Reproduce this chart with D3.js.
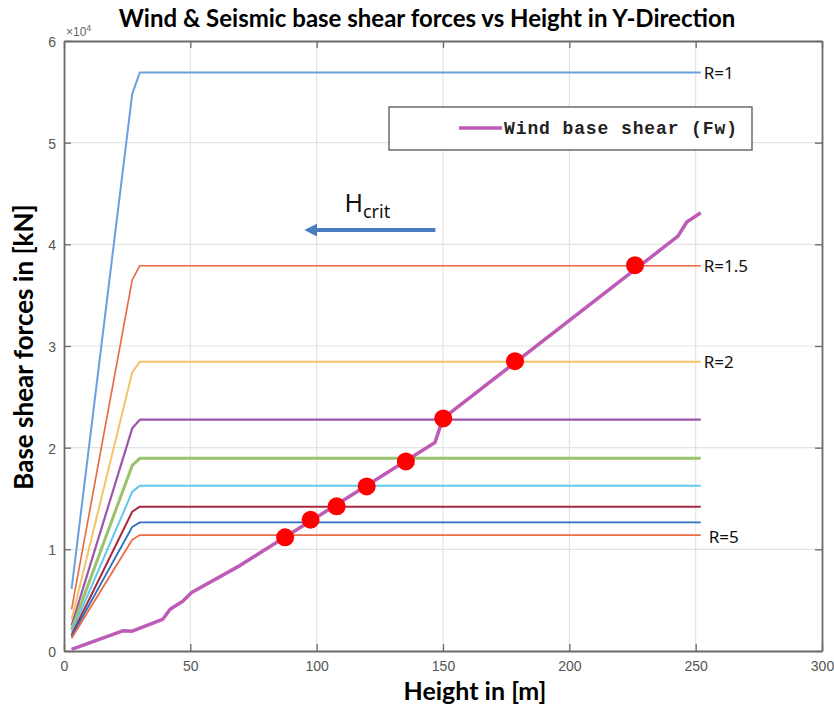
<!DOCTYPE html>
<html>
<head>
<meta charset="utf-8">
<script src="https://cdn.jsdelivr.net/npm/d3@7"></script>
<style>
  body { margin: 0; background: #fff; }
  svg { display: block; }
  .tick text { font-family: "Liberation Sans", Arial, sans-serif; font-size: 14px; fill: #555; }
</style>
</head>
<body>
<div id="chart"></div>
<script>
// heights where the seismic curves are sampled
let seismicHeights = [3, 27, 30, 252];

// seismic base shear for each behaviour factor R
let shearR1 = [6100, 54800, 56900, 56900];
let shearR15 = [4100, 36500, 37900, 37900];
let shearR2 = [3100, 27400, 28450, 28450];
let shearR25 = [2500, 21900, 22750, 22750];
let shearR3 = [2100, 18250, 18950, 18950];
let shearR35 = [1800, 15650, 16250, 16250];
let shearR4 = [1550, 13700, 14200, 14200];
let shearR45 = [1400, 12200, 12650, 12650];
let shearR5 = [1250, 10950, 11400, 11400];

let rNames = ["R=1", "R=1.5", "R=2", "R=2.5", "R=3", "R=3.5", "R=4", "R=4.5", "R=5"];
let labelledR = ["R=1", "R=1.5", "R=2", "R=5"];

// wind base shear
let windHeights = [3, 23.5, 27, 39, 42, 47, 50.5, 69.6, 146.8, 150, 243, 246.5, 252];
let windShear = [150, 2000, 1950, 3100, 4100, 4900, 5750, 8400, 20500, 22880, 40800, 42200, 43100];

// intersections (red dots)
let critHeights = [87.5, 97.6, 107.9, 119.8, 135.3, 150.1, 178.5, 226];
let critShear = [11180, 12910, 14230, 16190, 18650, 22880, 28510, 37950];

let xTicks = [0, 50, 100, 150, 200, 250, 300];
let yTicks = [0, 10000, 20000, 30000, 40000, 50000, 60000];

let seriesColors = ["#6c9fdf", "#e8673f", "#f4c469", "#9a57a9", "#98c36a", "#62c6ef", "#a82a42", "#2b73c0", "#eb6c46"];
let seriesWidths = [2, 1.6, 2, 2.2, 3, 2, 2, 1.8, 1.8];

let seismic = [shearR1, shearR15, shearR2, shearR25, shearR3, shearR35, shearR4, shearR45, shearR5];

// set the dimensions and margins of the graph
let margin = {top: 41, right: 12, bottom: 59, left: 64},
    width = 834 - margin.left - margin.right,
    height = 710 - margin.top - margin.bottom;

let svg = d3.select("#chart").append("svg")
    .attr("width", 834)
    .attr("height", 710);

let g = svg.append("g")
    .attr("transform", "translate(" + margin.left + "," + margin.top + ")");

let x = d3.scaleLinear().domain([0, 300]).range([0, width]);
let y = d3.scaleLinear().domain([0, 60000]).range([height, 0]);

// grid
g.append("g")
  .selectAll("line.vg")
  .data(xTicks.slice(1, -1))
  .enter().append("line")
    .attr("x1", d => x(d)).attr("x2", d => x(d))
    .attr("y1", 0).attr("y2", height)
    .attr("stroke", "#e4e4e4").attr("stroke-width", 1.2);
g.append("g")
  .selectAll("line.hg")
  .data(yTicks.slice(1, -1))
  .enter().append("line")
    .attr("x1", 0).attr("x2", width)
    .attr("y1", d => y(d)).attr("y2", d => y(d))
    .attr("stroke", "#e4e4e4").attr("stroke-width", 1.2);

// axes with inward ticks
let xAxis = g.append("g")
  .attr("transform", "translate(0," + height + ")")
  .call(d3.axisBottom(x).tickValues(xTicks).tickSizeInner(-7).tickSizeOuter(0).tickPadding(10));
let yAxis = g.append("g")
  .call(d3.axisLeft(y).tickValues(yTicks).tickFormat(d => d / 10000).tickSizeInner(-7).tickSizeOuter(0).tickPadding(8));
let xTop = g.append("g")
  .call(d3.axisTop(x).tickValues(xTicks).tickSizeInner(-7).tickSizeOuter(0).tickFormat(""));
let yRight = g.append("g")
  .attr("transform", "translate(" + width + ",0)")
  .call(d3.axisRight(y).tickValues(yTicks).tickSizeInner(-7).tickSizeOuter(0).tickFormat(""));

[xAxis, yAxis, xTop, yRight].forEach(a => {
  a.select(".domain").attr("stroke", "#6a6a6a").attr("stroke-width", 1.8);
  a.selectAll(".tick line").attr("stroke", "#6a6a6a").attr("stroke-width", 1.3);
});
yAxis.selectAll(".tick text").attr("dy", "0.4em");

// x10^4 label
let expo = g.append("text")
  .attr("x", 2).attr("y", -5)
  .attr("font-family", "Liberation Sans, Arial, sans-serif")
  .attr("font-size", 12).attr("fill", "#666")
  .text("×10");
expo.append("tspan").attr("dy", -5).attr("font-size", 9).text("4");

// seismic curves
let line = d3.line()
  .x((d, i) => x(seismicHeights[i]))
  .y(d => y(d));

g.selectAll(".seismic")
  .data(seismic)
  .enter().append("path")
    .attr("class", "seismic")
    .attr("fill", "none")
    .attr("stroke", (d, i) => seriesColors[i])
    .attr("stroke-width", (d, i) => seriesWidths[i])
    .attr("stroke-linejoin", "round")
    .attr("d", line);

// R labels
g.selectAll(".rlabel")
  .data(rNames.map((name, i) => ({name: name, v: seismic[i][seismic[i].length - 1]})).filter(d => labelledR.includes(d.name)))
  .enter().append("text")
    .attr("x", d => x(252) + (d.name === "R=5" ? 8 : 3))
    .attr("y", d => y(d.v) + (d.name === "R=5" ? 8 : 6))
    .attr("font-family", "Noto Sans, sans-serif")
    .attr("font-size", 17)
    .attr("fill", "#111")
    .text(d => d.name);

// wind line
let windLine = d3.line()
  .x((d, i) => x(windHeights[i]))
  .y(d => y(d));

g.append("path")
  .datum(windShear)
  .attr("fill", "none")
  .attr("stroke", "#bd5bb6")
  .attr("stroke-width", 3.5)
  .attr("stroke-linejoin", "round")
  .attr("d", windLine);

// critical points
g.selectAll(".crit")
  .data(critShear)
  .enter().append("circle")
    .attr("cx", (d, i) => x(critHeights[i]))
    .attr("cy", d => y(d))
    .attr("r", 9)
    .attr("fill", "#ff0000");

// Hcrit arrow
let arrowFrom = 147, arrowTo = 96, arrowY = 41400;
svg.append("defs").append("marker")
  .attr("id", "head")
  .attr("viewBox", "0 0 10 10")
  .attr("refX", 2).attr("refY", 5)
  .attr("markerWidth", 3.2).attr("markerHeight", 3.2)
  .attr("orient", "auto")
  .append("path").attr("d", "M0,0 L10,5 L0,10 z").attr("fill", "#4a7cc2");
g.append("line")
  .attr("x1", x(arrowFrom)).attr("x2", x(arrowTo) + 8)
  .attr("y1", y(arrowY)).attr("y2", y(arrowY))
  .attr("stroke", "#4a7cc2").attr("stroke-width", 4)
  .attr("marker-end", "url(#head)");
let hc = g.append("text")
  .attr("x", x(111)).attr("y", y(43200))
  .attr("font-family", "Noto Sans, sans-serif")
  .attr("font-size", 25).attr("fill", "#111")
  .text("H");
hc.append("tspan").attr("dy", 6).attr("font-size", 18).text("crit");

// legend
let lg = g.append("g").attr("transform", "translate(" + (389 - margin.left) + "," + (107 - margin.top) + ")");
lg.append("rect")
  .attr("width", 363).attr("height", 43)
  .attr("fill", "#fff").attr("stroke", "#555").attr("stroke-width", 1.3);
lg.append("line")
  .attr("x1", 70).attr("x2", 113).attr("y1", 21).attr("y2", 21)
  .attr("stroke", "#bd5bb6").attr("stroke-width", 3.5);
lg.append("text")
  .attr("x", 115).attr("y", 27)
  .attr("font-family", "Liberation Mono, monospace")
  .attr("font-weight", "bold")
  .attr("font-size", 18)
  .attr("textLength", 233)
  .attr("fill", "#222")
  .text("Wind base shear (Fw)");

// title and axis labels
svg.append("text")
  .attr("x", 427).attr("y", 27)
  .attr("text-anchor", "middle")
  .attr("font-family", "Lato, sans-serif")
  .attr("font-weight", "bold")
  .attr("font-size", 24)
  .attr("fill", "#000")
  .text("Wind & Seismic base shear forces vs Height in Y-Direction");

svg.append("text")
  .attr("x", 475).attr("y", 700)
  .attr("text-anchor", "middle")
  .attr("font-family", "Lato, sans-serif")
  .attr("font-weight", "bold")
  .attr("font-size", 25)
  .attr("fill", "#000")
  .text("Height in [m]");

svg.append("text")
  .attr("transform", "translate(33,347) rotate(-90)")
  .attr("text-anchor", "middle")
  .attr("font-family", "Lato, sans-serif")
  .attr("font-weight", "bold")
  .attr("font-size", 26)
  .attr("fill", "#000")
  .text("Base shear forces in [kN]");
</script>
</body>
</html>
